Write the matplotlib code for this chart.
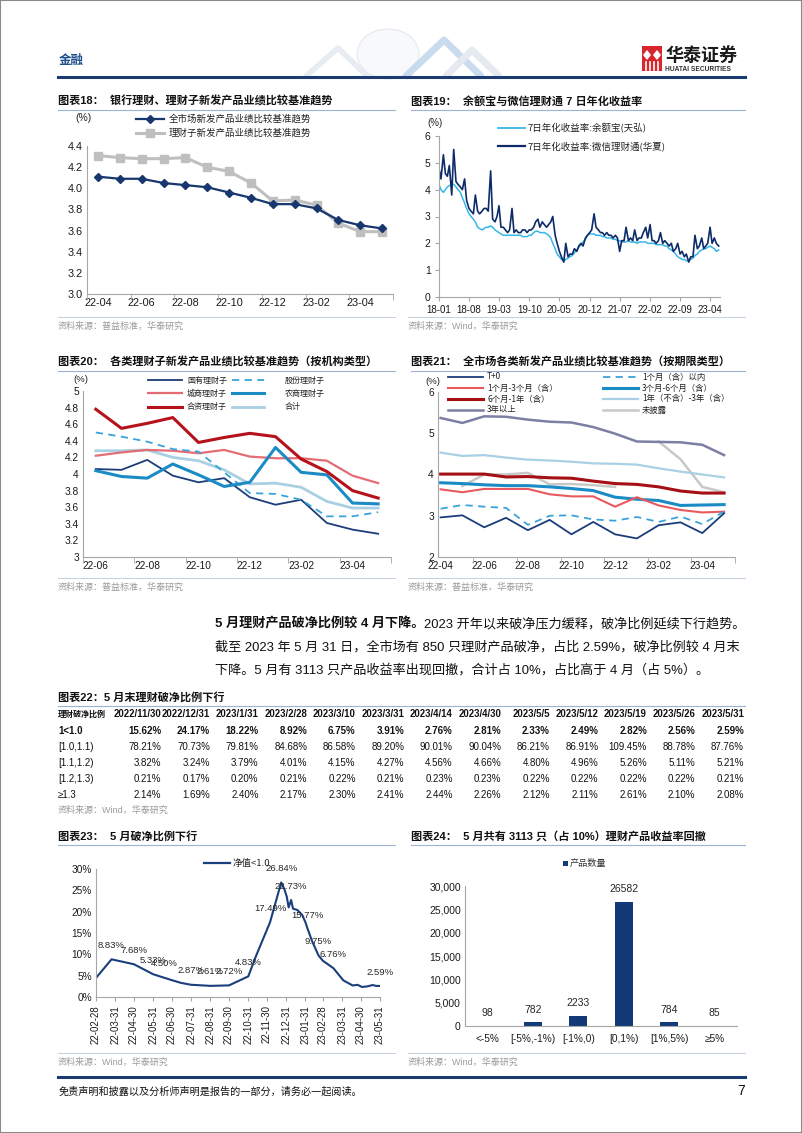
import matplotlib
matplotlib.use('Agg')
import matplotlib.pyplot as plt
from matplotlib.lines import Line2D
from matplotlib.patches import Rectangle, Polygon, Ellipse
from matplotlib.ticker import FuncFormatter
import numpy as np
import pandas as pd

plt.rcParams['font.family'] = ['Liberation Sans', 'Noto Sans CJK SC']
plt.rcParams['axes.unicode_minus'] = False

W, H = 802, 1133
NAVY = '#17376e'
AXC = '#a6a6a6'
LINEC = '#9db4d0'
SRC = '#9a9a9a'
CJK = ['Noto Sans CJK SC', 'Liberation Sans']

# ---------------- data ----------------
# chart 18
months18 = ['22-04', '22-05', '22-06', '22-07', '22-08', '22-09', '22-10',
            '22-11', '22-12', '23-01', '23-02', '23-03', '23-04', '23-05']
all_market = [4.11, 4.09, 4.09, 4.05, 4.03, 4.01, 3.96, 3.91, 3.85, 3.85, 3.81, 3.70, 3.65, 3.62]
lcz_new = [4.31, 4.29, 4.28, 4.28, 4.29, 4.20, 4.16, 4.05, 3.88, 3.89, 3.84, 3.67, 3.59, 3.59]

# chart 19 (semi-monthly readings, 2018-01 .. 2023-06)
yeb = [4.2, 4.0, 3.9, 4.0, 4.1, 4.15, 4.2, 4.2, 4.1, 4.0, 3.9, 3.7,       # 2018
       3.5, 3.3, 3.1, 3.0, 2.9, 2.8, 2.6, 2.55, 2.5, 2.55, 2.6, 2.6,
       2.65, 2.6, 2.5, 2.45, 2.4, 2.35, 2.3, 2.3, 2.3, 2.3, 2.3, 2.3,     # 2019
       2.3, 2.3, 2.3, 2.25, 2.25, 2.25, 2.3, 2.3, 2.4, 2.45, 2.45, 2.4,
       2.4, 2.4, 2.35, 2.3, 2.2, 2.0, 1.8, 1.6, 1.5, 1.4, 1.35, 1.4,      # 2020
       1.45, 1.5, 1.55, 1.65, 1.75, 1.85, 1.95, 2.05, 2.15, 2.3, 2.35, 2.35,
       2.35, 2.3, 2.3, 2.3, 2.25, 2.25, 2.2, 2.2, 2.2, 2.15, 2.15, 2.1,   # 2021
       2.1, 2.05, 2.05, 2.05, 2.1, 2.05, 2.05, 2.05, 2.0, 2.05, 2.05, 2.05,
       2.05, 2.0, 2.0, 2.0, 2.0, 1.95, 1.95, 1.95, 1.95, 1.9, 1.9, 1.8,   # 2022
       1.75, 1.7, 1.6, 1.5, 1.45, 1.4, 1.4, 1.35, 1.35, 1.4, 1.45, 1.55,
       1.6, 1.7, 1.75, 1.8, 1.8, 1.85, 1.9, 1.85, 1.8, 1.7, 1.75]         # 2023
wxlct = [4.8, 4.4, 5.3, 4.6, 4.5, 4.9, 3.8, 5.5, 4.3, 4.2, 4.1, 4.0,      # 2018
         4.4, 3.6, 3.3, 3.2, 3.1, 3.8, 3.2, 3.1, 3.2, 3.3, 3.3, 3.2,
         4.7, 2.9, 2.8, 3.0, 3.4, 2.6, 2.6, 2.5, 2.4, 2.5, 3.3, 2.4,      # 2019
         2.5, 2.4, 2.4, 2.5, 2.5, 2.4, 2.5, 2.5, 2.6, 2.8, 2.9, 2.6,
         2.8, 2.7, 2.6, 2.7, 2.8, 3.0, 2.3, 2.0, 1.7, 1.5, 1.3, 2.0,      # 2020
         1.5, 1.6, 1.6, 1.8, 1.7, 1.9, 2.0, 1.9, 2.2, 2.3, 2.4, 2.5,
         3.1, 2.6, 2.5, 2.4, 2.4, 2.3, 2.4, 2.3, 2.3, 2.2, 2.3, 2.2,      # 2021
         1.7, 2.1, 2.1, 2.6, 2.1, 2.2, 2.1, 2.5, 2.1, 2.2, 2.2, 2.4,
         2.6, 2.2, 2.7, 2.1, 2.1, 2.0, 2.1, 2.4, 2.0, 2.1, 2.0, 1.9,      # 2022
         2.0, 1.7, 1.8, 2.0, 1.6, 1.7, 1.5, 1.6, 1.3, 1.5, 1.5, 2.3,
         1.8, 1.9, 2.2, 1.8, 1.9, 2.0, 2.6, 2.0, 2.2, 2.0, 1.9]           # 2023
ticks19 = ['18-01', '18-08', '19-03', '19-10', '20-05', '20-12', '21-07', '22-02', '22-09', '23-04']

# chart 20
months20 = ['22-06', '22-07', '22-08', '22-09', '22-10', '22-11',
            '22-12', '23-01', '23-02', '23-03', '23-04', '23-05']
names20 = ['国有理财子', '股份理财子', '城商理财子', '农商理财子', '合资理财子', '合计']
guoyou = [4.06, 4.05, 4.17, 3.98, 3.90, 3.95, 3.72, 3.63, 3.69, 3.41, 3.33, 3.28]
gufen = [4.50, 4.45, 4.39, 4.30, 4.27, 4.02, 3.77, 3.76, 3.69, 3.49, 3.49, 3.54]
chengshang = [4.22, 4.26, 4.29, 4.28, 4.25, 4.29, 4.21, 4.19, 4.19, 4.16, 3.98, 3.89]
nongshang = [4.04, 3.97, 3.95, 4.12, 3.99, 3.85, 3.90, 4.32, 4.02, 3.99, 3.65, 3.64]
hezi = [4.78, 4.55, 4.61, 4.68, 4.38, 4.44, 4.49, 4.45, 4.18, 4.03, 3.80, 3.71]
heji = [4.28, 4.28, 4.29, 4.20, 4.16, 4.05, 3.88, 3.89, 3.84, 3.67, 3.59, 3.59]

# chart 21
months21 = months18
names21 = ['T+0', '1个月（含）以内', '1个月-3个月（含）', '3个月-6个月（含）',
           '6个月-1年（含）', '1年（不含）-3年（含）', '3年以上', '未披露']
t0 = [2.96, 3.01, 2.72, 2.95, 2.65, 2.90, 2.55, 2.85, 2.55, 2.45, 2.77, 2.84, 2.58, 3.06]
m1 = [3.17, 3.26, 3.22, 3.19, 2.78, 3.00, 3.01, 2.91, 2.88, 2.97, 2.85, 2.98, 2.80, 3.10]
m1_3 = [3.64, 3.57, 3.65, 3.65, 3.65, 3.52, 3.47, 3.47, 3.22, 3.45, 3.25, 3.14, 3.08, 3.10]
m3_6 = [3.80, 3.78, 3.75, 3.73, 3.73, 3.70, 3.66, 3.61, 3.45, 3.40, 3.37, 3.25, 3.26, 3.27]
m6_12 = [4.01, 4.01, 4.01, 3.94, 3.95, 3.92, 3.91, 3.84, 3.78, 3.76, 3.70, 3.60, 3.55, 3.55]
y1_3 = [4.53, 4.45, 4.47, 4.41, 4.36, 4.34, 4.31, 4.27, 4.26, 4.24, 4.15, 4.07, 4.00, 3.93]
y3p = [5.37, 5.25, 5.41, 5.40, 5.33, 5.28, 5.26, 5.15, 4.99, 4.80, 4.79, 4.78, 4.72, 4.47]
undis = [np.nan, 3.72, 4.00, 4.00, 4.04, 3.76, 3.77, 3.74, 3.70, np.nan, 4.80, 4.37, 3.70, 3.57]

# table 22
dates22 = ['2022/11/30', '2022/12/31', '2023/1/31', '2023/2/28', '2023/3/10', '2023/3/31', '2023/4/14',
           '2023/4/30', '2023/5/5', '2023/5/12', '2023/5/19', '2023/5/26', '2023/5/31']
rows22 = ['1<1.0', '[1.0,1.1)', '[1.1,1.2)', '[1.2,1.3)', '≥1.3']
r_lt1 = [15.62, 24.17, 18.22, 8.92, 6.75, 3.91, 2.76, 2.81, 2.33, 2.49, 2.82, 2.56, 2.59]
r_10_11 = [78.21, 70.73, 79.81, 84.68, 86.58, 89.20, 90.01, 90.04, 86.21, 86.91, 109.45, 88.78, 87.76]
r_11_12 = [3.82, 3.24, 3.79, 4.01, 4.15, 4.27, 4.56, 4.66, 4.80, 4.96, 5.26, 5.11, 5.21]
r_12_13 = [0.21, 0.17, 0.20, 0.21, 0.22, 0.21, 0.23, 0.23, 0.22, 0.22, 0.22, 0.22, 0.21]
r_ge13 = [2.14, 1.69, 2.40, 2.17, 2.30, 2.41, 2.44, 2.26, 2.12, 2.11, 2.61, 2.10, 2.08]

# chart 23
dates23 = ['2022-02-28', '2022-03-25', '2022-04-30', '2022-05-31', '2022-06-18', '2022-06-30',
           '2022-07-15', '2022-07-31', '2022-08-31', '2022-09-30', '2022-10-31', '2022-11-13',
           '2022-12-05', '2022-12-23', '2022-12-28', '2023-01-01', '2023-01-04', '2023-01-08',
           '2023-01-11', '2023-01-18', '2023-01-26', '2023-01-31', '2023-02-04', '2023-02-11',
           '2023-02-21', '2023-02-28', '2023-03-17', '2023-04-02', '2023-04-17', '2023-04-25',
           '2023-05-02', '2023-05-11', '2023-05-19', '2023-05-25', '2023-05-31']
ratio23 = [4.46, 8.83, 7.68, 5.33, 4.50, 3.95, 3.30, 2.87, 2.61, 2.72, 4.83, 9.8,
           17.49, 26.84, 25.3, 23.5, 21.0, 22.73, 20.7, 20.4, 19.2, 17.5, 15.77, 13.0,
           9.75, 8.5, 6.76, 3.9, 2.7, 2.85, 2.35, 2.5, 2.8, 2.6, 2.59]
labeled23 = [1, 2, 3, 4, 7, 8, 9, 10, 12, 13, 17, 22, 24, 26, 34]

# chart 24
cats24 = ['<-5%', '[-5%,-1%)', '[-1%,0)', '[0,1%)', '[1%,5%)', '≥5%']
counts24 = [98, 782, 2233, 26582, 784, 85]

# ---------------- helpers ----------------
fig = plt.figure(figsize=(W / 100, H / 100), dpi=100)


def fx(x):
    return x / W


def fy(y):
    return 1 - y / H


def put(x, y, s, size=8, **kw):
    kw.setdefault('va', 'center')
    return fig.text(fx(x), fy(y), s, fontsize=size, **kw)


def hline(x0, x1, y, color=LINEC, lw=0.8):
    fig.add_artist(Line2D([fx(x0), fx(x1)], [fy(y), fy(y)], color=color, lw=lw))


def new_ax(l, t, r, b):
    ax = fig.add_axes([fx(l), fy(b), (r - l) / W, (b - t) / H])
    for s in ['top', 'right']:
        ax.spines[s].set_visible(False)
    for s in ['left', 'bottom']:
        ax.spines[s].set_color(AXC)
        ax.spines[s].set_linewidth(0.8)
    ax.tick_params(color=AXC, labelcolor='#1a1a1a', labelsize=7.5, length=0, pad=3)
    ax.patch.set_alpha(0)
    return ax


def leg_item(x0, x1, y, tx, label, size=6.3, **kw):
    fig.add_artist(Line2D([fx(x0), fx((x0 + x1) / 2), fx(x1)], [fy(y)] * 3, **kw))
    put(tx, y, label, size=size, family=CJK, color='#222222')


def chart_title(x, y, s, x1):
    put(x, y, s, size=8, weight='bold', color='#111111')
    hline(x, x1, y + 9)


def source(x, y, s, x1):
    hline(x, x1, y - 9, color='#b8c8dc', lw=0.6)
    put(x, y, s, size=6.5, color=SRC)


# ---------------- page frame / header / footer ----------------
fig.add_artist(Rectangle((0, 0), 1, 1, transform=fig.transFigure, fill=False,
                         edgecolor='#8a8a8a', lw=1.5))
# faint watermark
fig.add_artist(Ellipse((fx(388), fy(54)), 62 / W, 50 / H, transform=fig.transFigure,
                       facecolor='#f7f9fb', edgecolor='#e2e7ed', lw=0.7))
fig.add_artist(Line2D([fx(305), fx(338), fx(368)], [fy(77), fy(48), fy(77)],
                      color='#e6ecf2', lw=4, solid_capstyle='butt'))
fig.add_artist(Line2D([fx(405), fx(444), fx(482)], [fy(77), fy(40), fy(77)],
                      color='#bcd3ec', lw=5, alpha=0.8, solid_capstyle='butt'))
fig.add_artist(Line2D([fx(445), fx(472), fx(500)], [fy(77), fy(50), fy(77)],
                      color='#e5eaf0', lw=5, solid_capstyle='butt'))

put(59, 60, '金融', size=9, weight='bold', color='#1f4e8c', family=CJK)
hline(58, 745, 77, color='#1c3b72', lw=2.2)

# logo
fig.add_artist(Rectangle((fx(642), fy(71)), 20 / W, 25 / H, transform=fig.transFigure,
                         facecolor='#d9262e', edgecolor='none'))
for cx in (647, 657):
    fig.add_artist(Polygon([(fx(cx - 4), fy(55)), (fx(cx), fy(50)), (fx(cx + 4), fy(55)), (fx(cx), fy(60))],
                           closed=True, transform=fig.transFigure, facecolor='white', edgecolor='none'))
for vx in (646, 650, 654, 658):
    fig.add_artist(Line2D([fx(vx), fx(vx)], [fy(62), fy(70)], color='white', lw=1.2))
put(665, 55, '华泰证券', size=13, weight='bold', color='#1a1a1a', family=CJK)
put(665, 69.5, 'HUATAI SECURITIES', size=4.8, weight='bold', color='#333333')

hline(58, 745, 1077, color='#1c3b72', lw=2.2)
put(59, 1091, '免责声明和披露以及分析师声明是报告的一部分，请务必一起阅读。', size=7.3,
    color='#111111', family=CJK, style='italic')
put(745, 1091, '7', size=10, ha='right', color='#111111')

# ---------------- chart 18 ----------------
chart_title(58, 101, '图表18：  银行理财、理财子新发产品业绩比较基准趋势', 395)
ax = new_ax(87, 146, 393, 294)
x = np.arange(len(months18))
ax.plot(x, lcz_new, color='#bfbfbf', lw=2.2, marker='s', ms=5.5)
ax.plot(x, all_market, color=NAVY, lw=1.6, marker='D', ms=3.8)
ax.set_xlim(-0.5, len(x) - 0.5)
ax.set_ylim(3.0, 4.4)
ax.set_yticks(np.round(np.arange(3.0, 4.41, 0.2), 1))
ax.yaxis.set_major_formatter(FuncFormatter(lambda v, p: f'{v:.1f}'))
ax.set_xticks(x[::2])
ax.set_xticklabels(months18[::2])
ax.set_xticks(np.arange(-0.5, len(x), 2), minor=True)
ax.tick_params(axis='x', which='minor', length=4, color=AXC)
ax.tick_params(labelsize=7.8)
put(75, 118, '(%)', size=7.5, color='#222222')
leg_item(136, 164, 119, 169, '全市场新发产品业绩比较基准趋势', size=6.8, color=NAVY, lw=1.6,
         marker='D', ms=3.8, markevery=[1])
leg_item(136, 164, 133, 169, '理财子新发产品业绩比较基准趋势', size=6.8, color='#bfbfbf', lw=2.2,
         marker='s', ms=5.5, markevery=[1])
source(58, 326, '资料来源：普益标准，华泰研究', 395)

# ---------------- chart 19 ----------------
chart_title(411, 101, '图表19：  余额宝与微信理财通 7 日年化收益率', 745)
ax = new_ax(439, 136, 720, 297)
d19 = pd.date_range('2018-01-01', periods=len(yeb), freq='SMS')
ax.plot(d19, yeb, color='#35b6e8', lw=1.1)
ax.plot(d19, wxlct, color='#0d2b68', lw=1.2)
ax.set_ylim(0, 6)
ax.set_xlim(pd.Timestamp('2018-01-01'), pd.Timestamp('2023-06-10'))
t19 = pd.to_datetime(['20' + t + '-01' for t in ticks19])
ax.set_xticks(t19)
ax.set_xticklabels(ticks19)
ax.set_yticks(range(0, 7))
ax.tick_params(axis='x', length=3, labelsize=7)
ax.tick_params(axis='y', length=3, labelsize=7.5)
put(427, 123, '(%)', size=7, color='#222222')
leg_item(498, 525, 128, 528, '7日年化收益率:余额宝(天弘)', size=6.8, color='#35b6e8', lw=1.3)
leg_item(498, 525, 146, 528, '7日年化收益率:微信理财通(华夏)', size=6.8, color='#0d2b68', lw=1.6)
source(408, 326, '资料来源：Wind，华泰研究', 745)

# ---------------- chart 20 ----------------
chart_title(58, 362, '图表20：  各类理财子新发产品业绩比较基准趋势（按机构类型）', 395)
ax = new_ax(83, 391, 391, 557)
x = np.arange(len(months20))
series20 = [guoyou, gufen, chengshang, nongshang, hezi, heji]
styles20 = [dict(color='#1b3d7a', lw=1.3),
            dict(color='#3aa3d9', lw=1.3, ls=(0, (4, 3))),
            dict(color='#e46c74', lw=1.6),
            dict(color='#1b8bc6', lw=2.2),
            dict(color='#b5121b', lw=2.2),
            dict(color='#a9cfe2', lw=2.0)]
order20 = [5, 2, 0, 1, 3, 4]
for i in order20:
    ax.plot(x, series20[i], **styles20[i])
ax.set_xlim(-0.5, len(x) - 0.5)
ax.set_ylim(3, 5)
ax.set_yticks(np.round(np.arange(3, 5.01, 0.2), 1))
ax.yaxis.set_major_formatter(FuncFormatter(lambda v, p: f'{v:g}'))
ax.set_xticks(x[::2])
ax.set_xticklabels(months20[::2])
ax.set_xticks(np.arange(-0.5, len(x), 2), minor=True)
ax.tick_params(axis='x', which='minor', length=4, color=AXC)
ax.tick_params(labelsize=7.3)
put(73, 379, '(%)', size=6.8, color='#222222')
for k in range(6):
    col, row = k % 2, k // 2
    xs = (148, 182, 187) if col == 0 else (232, 264, 285)
    leg_item(xs[0], xs[1], 380 + row * 13.3, xs[2], names20[k], size=5.8, **styles20[k])
source(58, 587, '资料来源：普益标准，华泰研究', 395)

# ---------------- chart 21 ----------------
chart_title(411, 362, '图表21：  全市场各类新发产品业绩比较基准趋势（按期限类型）', 745)
ax = new_ax(438, 392, 735, 557)
x = np.arange(len(months21))
series21 = [t0, m1, m1_3, m3_6, m6_12, y1_3, y3p, undis]
styles21 = [dict(color='#1b3d7a', lw=1.3),
            dict(color='#3aa3d9', lw=1.3, ls=(0, (4, 3))),
            dict(color='#e8595f', lw=1.5),
            dict(color='#1b8bc6', lw=2.2),
            dict(color='#a50f15', lw=2.2),
            dict(color='#a9d0e4', lw=1.6),
            dict(color='#7c7fa3', lw=1.8),
            dict(color='#c8c8c8', lw=1.8)]
for i in [7, 6, 5, 4, 3, 2, 1, 0]:
    ax.plot(x, series21[i], **styles21[i])
ax.set_xlim(-0.12, len(x) - 0.8)
ax.set_ylim(2, 6)
ax.set_yticks(range(2, 7))
ax.set_xticks(x[::2])
ax.set_xticklabels(months21[::2])
ax.set_xticks(np.arange(1.5, len(x), 2), minor=True)
ax.tick_params(axis='x', which='minor', length=4, color=AXC)
ax.tick_params(labelsize=7.3)
put(425, 381, '(%)', size=6.8, color='#222222')
for k in range(8):
    col, row = k % 2, k // 2
    xs = (448, 483, 487) if col == 0 else (603, 638, 642)
    leg_item(xs[0], xs[1], 377 + row * 11, xs[2], names21[k], size=6.0, **styles21[k])
source(408, 587, '资料来源：普益标准，华泰研究', 745)

# ---------------- paragraph ----------------
fs_p = 9.45
t1 = put(215, 624, '5 月理财产品破净比例较 4 月下降。', size=fs_p, weight='bold', color='#111111')
fig.canvas.draw()
bb = t1.get_window_extent(renderer=fig.canvas.get_renderer())
put(bb.x1 / fig.dpi * 100, 624, '2023 开年以来破净压力缓释，破净比例延续下行趋势。', size=fs_p, color='#111111')
put(215, 647, '截至 2023 年 5 月 31 日，全市场有 850 只理财产品破净，占比 2.59%，破净比例较 4 月末',
    size=fs_p, color='#111111')
put(215, 670, '下降。5 月有 3113 只产品收益率出现回撤，合计占 10%，占比高于 4 月（占 5%）。',
    size=fs_p, color='#111111')

# ---------------- table 22 ----------------
chart_title(58, 697, '图表22：5 月末理财破净比例下行', 745)
col_r = [161.5 + 48.55 * i for i in range(len(dates22))]
put(58, 714, '理财破净比例', size=5.8, weight='bold', family=CJK, color='#111111')
for cx, d in zip(col_r, dates22):
    put(cx, 714, d, size=6.9, weight='bold', ha='right', color='#111111')
table_rows = [r_lt1, r_10_11, r_11_12, r_12_13, r_ge13]
row_y = [731, 747, 763, 779, 795]
for ri, (name, vals, yy) in enumerate(zip(rows22, table_rows, row_y)):
    wt = 'bold' if ri == 0 else 'normal'
    put(58, yy, name, size=7, weight=wt, color='#111111')
    for cx, v in zip(col_r, vals):
        put(cx, yy, f'{v:.2f}%', size=7, weight=wt, ha='right', color='#111111')
put(58, 810, '资料来源：Wind，华泰研究', size=6.5, color=SRC)

# ---------------- chart 23 ----------------
chart_title(58, 836, '图表23：  5 月破净比例下行', 395)
ax = new_ax(96, 869, 380, 997)
d23 = pd.to_datetime(dates23)
ax.plot(d23, ratio23, color='#1a3f7c', lw=1.5)
for i in labeled23:
    ax.annotate(f'{ratio23[i]:.2f}%', (d23[i], ratio23[i]), xytext=(0, 10),
                textcoords='offset points', ha='center', va='center', fontsize=6.8, color='#262626')
ax.set_ylim(0, 30)
ax.set_yticks(range(0, 31, 5))
ax.yaxis.set_major_formatter(FuncFormatter(lambda v, p: f'{v:.0f}%'))
mt = pd.date_range('2022-02-28', '2023-05-31', freq='ME')
ax.set_xlim(mt[0], mt[-1])
ax.set_xticks(mt)
ax.set_xticklabels([t.strftime('%y-%m-%d') for t in mt], rotation=90)
ax.tick_params(axis='x', length=3, labelsize=6.9)
ax.tick_params(axis='y', length=0, labelsize=7.3)
leg_item(204, 230, 863, 233, '净值<1.0', size=6.8, color='#1a3f7c', lw=1.6)
source(58, 1062, '资料来源：Wind，华泰研究', 395)

# ---------------- chart 24 ----------------
chart_title(411, 836, '图表24：  5 月共有 3113 只（占 10%）理财产品收益率回撤', 745)
ax = new_ax(465, 886, 737, 1026)
x = np.arange(len(cats24))
ax.bar(x, counts24, width=0.4, color='#133a78')
for xi, v in zip(x, counts24):
    ax.annotate(f'{v}', (xi, v), xytext=(0, 9), textcoords='offset points',
                ha='center', va='center', fontsize=7.5, color='#262626')
ax.set_xlim(-0.5, len(x) - 0.5)
ax.set_ylim(0, 30000)
ax.set_yticks(range(0, 30001, 5000))
ax.yaxis.set_major_formatter(FuncFormatter(lambda v, p: f'{v:,.0f}'))
ax.set_xticks(x)
ax.set_xticklabels(cats24)
ax.tick_params(axis='x', length=0, labelsize=7.3, pad=6)
ax.tick_params(axis='y', length=0, labelsize=7.5)
fig.add_artist(Rectangle((fx(563), fy(866)), 5 / W, 5 / H, transform=fig.transFigure,
                         facecolor='#133a78', edgecolor='none'))
put(570, 863, '产品数量', size=6.6, family=CJK, color='#333333')
source(408, 1062, '资料来源：Wind，华泰研究', 745)

fig.savefig('out.png', dpi=100)
